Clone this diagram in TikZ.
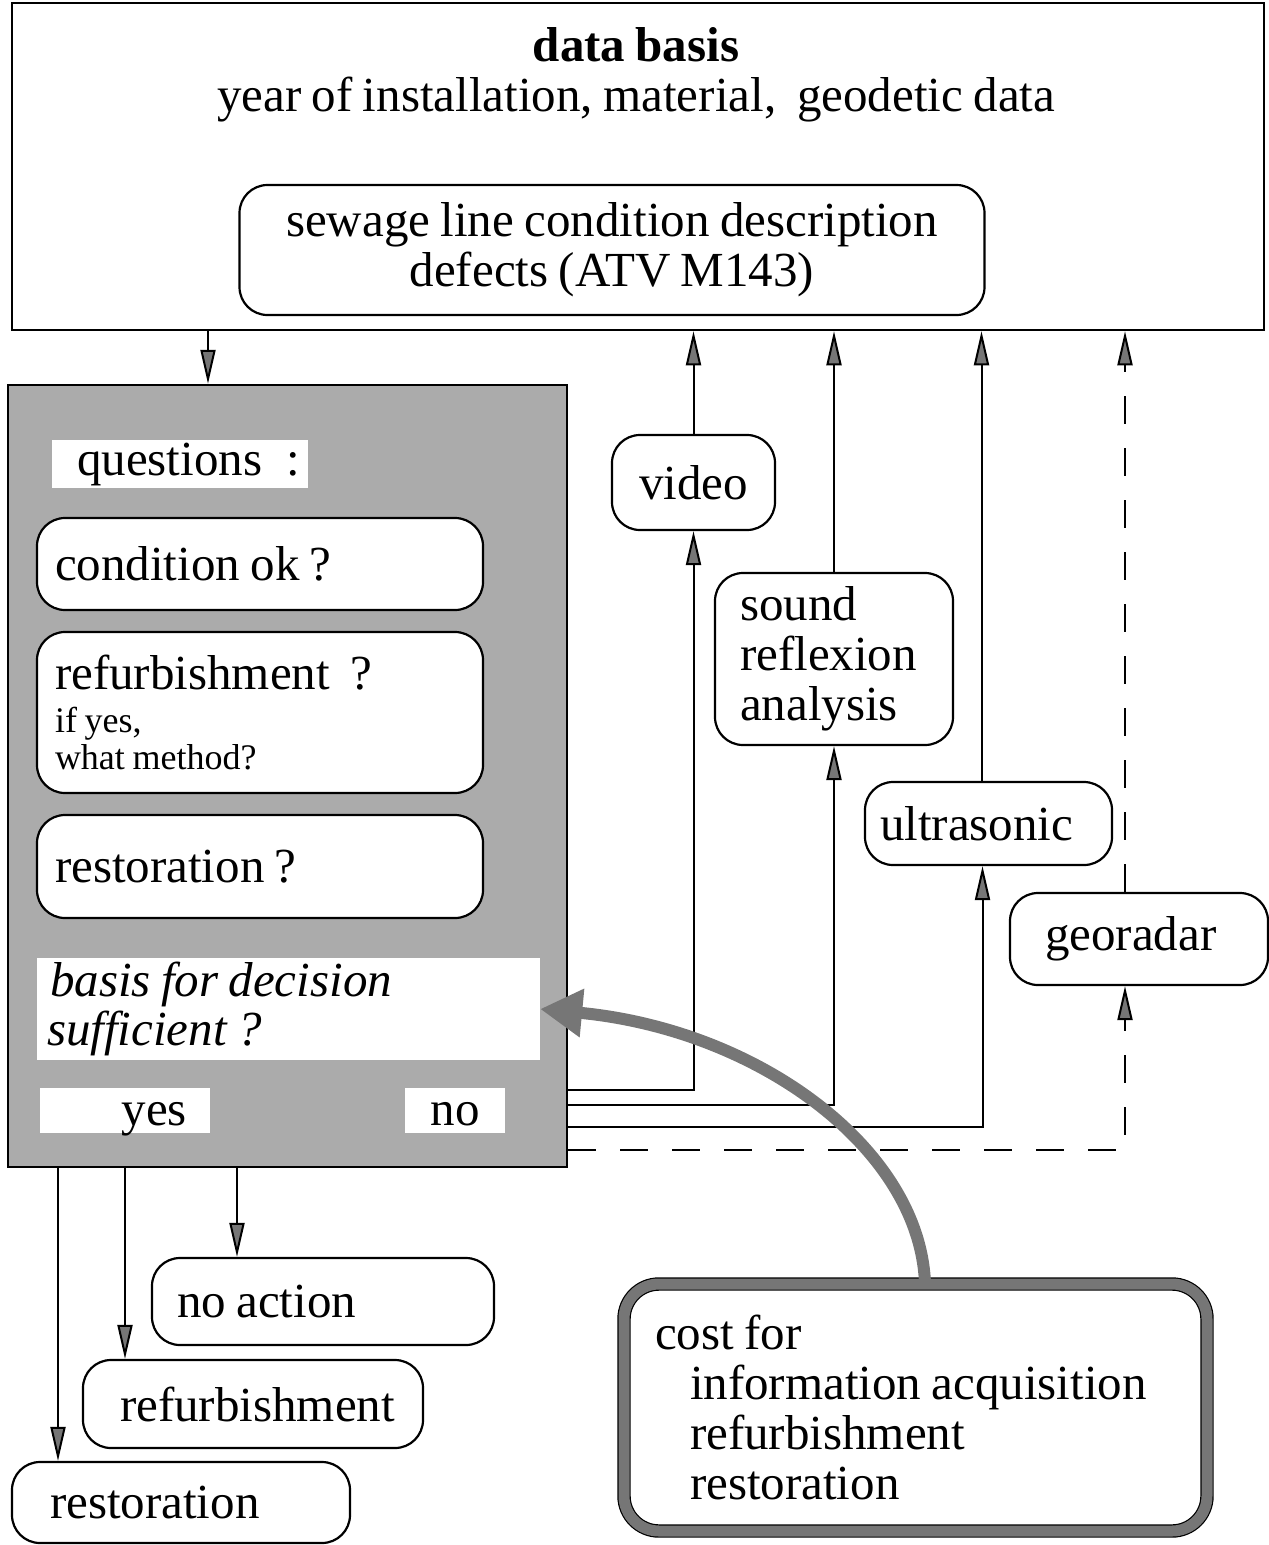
\documentclass[tikz,border=0pt]{standalone}
\usepackage{fontspec}
\setmainfont{Liberation Serif}[WordSpace=0.85]
\usetikzlibrary{arrows.meta}
\definecolor{hatchgray}{RGB}{118,118,118}

\tikzset{
  rbox/.style={draw, line width=2.2pt, rounded corners=28pt, fill=white, inner ysep=0pt, align=flush left},
  wbox/.style={fill=white, inner ysep=0pt, align=flush left},
  arr/.style={line width=2pt, -{Triangle[length=34pt,width=15pt,fill=hatchgray]}},
  dsh/.style={dash pattern=on 28pt off 24pt},
}

\begin{document}
\begin{tikzpicture}[x=1pt,y=-1pt,font=\fontsize{49}{50}\selectfont]
\useasboundingbox (0,0) rectangle (1269,1545);

% data basis
\node[draw, line width=2.5pt, minimum width=1252pt, minimum height=327pt] (base) at (638,166.5) {};
\node[align=center] (title) at (636,75) {\textbf{data basis}\\ year of installation, material,\ \ geodetic data};
\node[rbox, align=flush center, text width=745pt, inner xsep=0pt, minimum height=130pt] (cond) at (612,250) {sewage line condition description\\ defects (ATV M143)};

% questions
\node[draw, line width=2.5pt, fill=black!33, minimum width=559pt, minimum height=782pt] (quest) at (287.5,776) {};
\node[wbox, text width=206pt, inner xsep=25pt, minimum height=48pt] (qlab) at (180,464) {questions\kern24pt:};
\node[rbox, text width=410pt, inner xsep=18pt, minimum height=92pt] (q1) at (260,564) {condition ok ?};
\node[rbox, text width=410pt, inner xsep=18pt, minimum height=161pt] (q2) at (260,712.5) {refurbishment~~?\\[6pt]\fontsize{36}{37}\selectfont if yes,\\[-13pt] what method?};
\node[rbox, text width=410pt, inner xsep=18pt, minimum height=103pt] (q3) at (260,866.5) {restoration ?};
\node[wbox, text width=483pt, inner xsep=10pt, minimum height=102pt, font=\fontsize{49}{49}\selectfont\itshape] (basis) at (288.5,1009) {\hspace*{3pt}basis for decision\\ sufficient ?};
\node[wbox, align=flush right, text width=124pt, inner xsep=23pt, text height=37pt, text depth=8pt] (yes) at (125,1110.5) {yes};
\node[wbox, align=flush center, text width=100pt, inner xsep=0pt, text height=37pt, text depth=8pt] (no) at (455,1110.5) {no};

% methods
\node[rbox, align=flush center, text width=163pt, inner xsep=0pt, minimum height=95pt] (video) at (693.5,482.5) {video};
\node[rbox, text width=188pt, inner xsep=25pt, minimum height=172pt] (sound) at (834,659) {sound\\ reflexion\\ analysis};
\node[rbox, text width=217pt, inner xsep=15pt, minimum height=83pt] (ultra) at (988.5,823.5) {ultrasonic};
\node[rbox, text width=188pt, inner xsep=35pt, minimum height=92pt] (geo) at (1139,939) {georadar};

% results
\node[rbox, text width=292pt, inner xsep=25pt, minimum height=87pt] (noact) at (323,1301.5) {no action};
\node[rbox, text width=266pt, inner xsep=37pt, minimum height=88pt] (refurb) at (253,1404) {refurbishment};
\node[rbox, text width=262pt, inner xsep=38pt, minimum height=81pt] (restor) at (181,1502.5) {restoration};

% cost
\node[draw=black, double=hatchgray, double distance=11pt, line width=1.2pt, rounded corners=35pt, fill=white, align=flush left, text width=521pt, inner xsep=31pt, minimum height=247pt] (cost) at (915.5,1407.5) {cost for\\ \hspace*{35pt}information acquisition\\ \hspace*{35pt}refurbishment\\ \hspace*{35pt}restoration};

% connectors
\draw[arr] (base.south -| 208,0) -- (quest.north -| 208,0);
\draw[arr] (video.north) -- (video.north |- base.south);
\draw[arr] (sound.north) -- (sound.north |- base.south);
\draw[arr] ([xshift=-7pt]ultra.north) -- ([xshift=-7pt]ultra.north |- base.south);
\draw[arr,dsh] ([xshift=-14pt]geo.north) -- ([xshift=-14pt]geo.north |- base.south);

\draw[arr] (quest.east |- 0,1090) -| (video.south);
\draw[arr] (quest.east |- 0,1105) -| (sound.south);
\draw[arr] (quest.east |- 0,1127) -| ([xshift=-6pt]ultra.south);
\draw[arr,dsh] (quest.east |- 0,1150) -| ([xshift=-14pt]geo.south);

\draw[arr] (quest.south -| 237,0) -- (noact.north -| 237,0);
\draw[arr] (quest.south -| 125,0) -- (refurb.north -| 125,0);
\draw[arr] (quest.south -| 58,0) -- (restor.north -| 58,0);

\draw[line width=12pt, hatchgray, -{Triangle[length=42pt,width=46pt]}] (cost.north -| 925,0) .. controls (920,1150) and (760,1030) .. (basis.east);
\end{tikzpicture}
\end{document}
